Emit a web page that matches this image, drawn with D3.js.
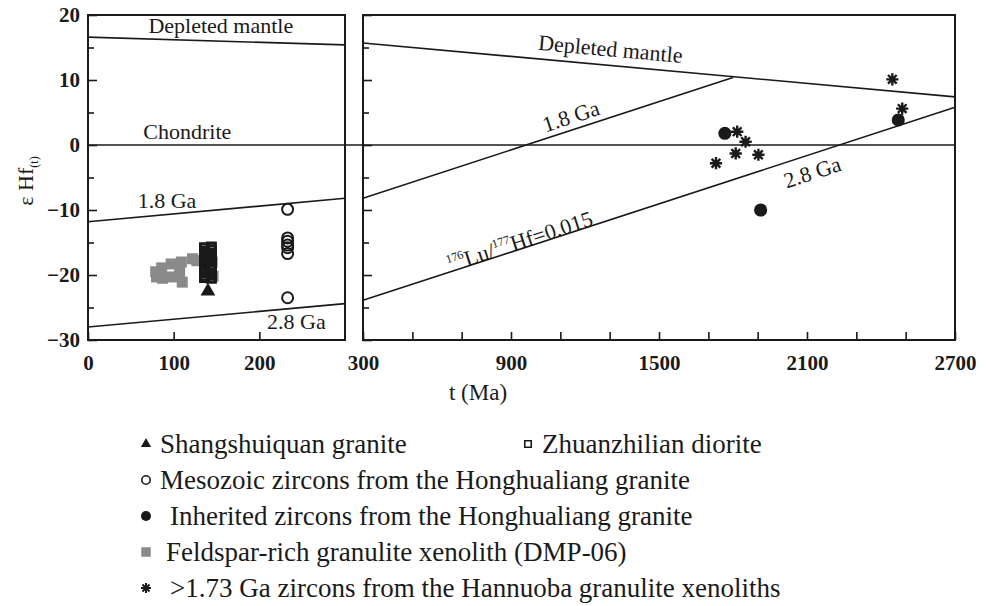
<!DOCTYPE html>
<html>
<head>
<meta charset="utf-8">
<script src="https://cdn.jsdelivr.net/npm/d3@7"></script>
<style>
  html, body { margin: 0; padding: 0; background: #fff; }
  svg { display: block; }
  text { font-family: "Liberation Serif", "Times New Roman", serif; fill: #1a1a1a; }
</style>
</head>
<body>
<svg id="chart" width="989" height="606"></svg>
<script>
// ---- data: t (Ma), εHf(t) ----
const shangshuiquan = [[140, -22.5]];
const zhuanzhilian = [
  [136, -15.8], [136, -16.3], [136, -16.7], [136, -17.2], [136, -17.5], [136, -18.0],
  [136, -18.4], [136, -18.9], [136, -19.3], [136, -19.6], [136, -20.1], [136, -20.4],
  [144, -15.7], [144, -16.1], [144, -16.6], [144, -17.0], [144, -17.6], [144, -17.9],
  [144, -18.5], [144, -18.8], [144, -19.2], [144, -19.7], [144, -20.0], [144, -20.5]
];
const mesozoic = [[233, -9.9], [233, -14.3], [233, -14.8], [233, -15.4], [233, -15.8], [233, -16.7], [233, -23.5]];
const inherited = [[1767, 1.8], [2470, 3.85], [1912, -10.0]];
const dmp06 = [
  [79, -19.5], [80, -20.3], [86, -18.9], [87, -20.5], [97, -18.3], [98, -20.3],
  [109, -18.0], [110, -21.1], [107, -19.6], [122, -17.5], [127, -17.8],
  [145, -18.0], [146, -20.2]
];
const hannuoba = [[2446, 10.1], [2486, 5.6], [1817, 2.05], [1851, 0.5], [1811, -1.3], [1903, -1.5], [1731, -2.8]];

// reference evolution lines, left (0–300 Ma) and right (300–2700 Ma) panels
const leftDM = [[0, 16.6], [300, 15.4]];
const left18 = [[0, -11.8], [300, -8.2]];
const left28 = [[0, -28.0], [300, -24.4]];
const rightDM = [[300, 15.7], [2700, 7.4]];
const right18 = [[300, -8.2], [1800, 10.4]];
const right28 = [[300, -23.9], [2700, 5.8]];

// axes
const leftDomain = [0, 300];
const rightDomain = [300, 2700];
const yDomain = [-30, 20];
const yTickLabels = [20, 10, 0, -10, -20, -30];
const yMinorTicks = [15, 5, -5, -15, -25];
const leftXTicks = [0, 100, 200];
const rightXTicks = [300, 500, 700, 900, 1100, 1300, 1500, 1700, 1900, 2100, 2300, 2500, 2700];
const rightXLabels = [300, 900, 1500, 2100, 2700];

const legendItems = [
  { key: "tri", label: "Shangshuiquan granite" },
  { key: "hsq", label: "Zhuanzhilian diorite" },
  { key: "oc", label: "Mesozoic zircons from the Honghualiang granite" },
  { key: "fc", label: "Inherited zircons from the Honghualiang granite" },
  { key: "gsq", label: "Feldspar-rich granulite xenolith (DMP-06)" },
  { key: "ast", label: ">1.73 Ga zircons from the Hannuoba granulite xenoliths" }
];

// ---- drawing ----
const ink = "#1a1a1a";
const svg = d3.select("#chart");

const xL = d3.scaleLinear().domain(leftDomain).range([88, 345]);
const xR = d3.scaleLinear().domain(rightDomain).range([363, 955]);
const y = d3.scaleLinear().domain(yDomain).range([340, 15]);

// eight-ray asterisk
const asterisk = {
  draw(ctx, size) {
    const r = Math.sqrt(size) / 2;
    const d = r * Math.SQRT1_2;
    ctx.moveTo(-r, 0); ctx.lineTo(r, 0);
    ctx.moveTo(0, -r); ctx.lineTo(0, r);
    ctx.moveTo(-d, -d); ctx.lineTo(d, d);
    ctx.moveTo(-d, d); ctx.lineTo(d, -d);
  }
};

function panelFrame(xs) {
  const [x0, x1] = xs.range();
  svg.append("rect")
    .attr("x", x0).attr("y", y(20))
    .attr("width", x1 - x0).attr("height", y(-30) - y(20))
    .attr("fill", "none").attr("stroke", ink).attr("stroke-width", 2);
}

function yTicks(xs, withLabels) {
  const gMaj = svg.append("g").attr("transform", `translate(${xs.range()[0]},0)`)
    .call(d3.axisLeft(y).tickValues(yTickLabels).tickSize(-9).tickPadding(8)
      .tickFormat(withLabels ? d3.format("d") : () => ""));
  const gMin = svg.append("g").attr("transform", `translate(${xs.range()[0]},0)`)
    .call(d3.axisLeft(y).tickValues(yMinorTicks).tickSize(-6).tickFormat(() => ""));
  [gMaj, gMin].forEach(g => {
    g.select(".domain").remove();
    g.selectAll("line").attr("stroke", ink).attr("stroke-width", 1.6);
    g.selectAll("text").attr("font-size", 21).attr("font-weight", "bold")
      .attr("font-family", "Liberation Serif").attr("fill", ink);
  });
}

function xTicks(xs, values, labels) {
  const g = svg.append("g").attr("transform", `translate(0,${y(-30)})`)
    .call(d3.axisBottom(xs).tickValues(values).tickSize(-8).tickPadding(15)
      .tickFormat(v => labels.includes(v) ? String(v) : ""));
  g.select(".domain").remove();
  g.selectAll("line").attr("stroke", ink).attr("stroke-width", 1.6);
  g.selectAll("text").attr("font-size", 21).attr("font-weight", "bold")
    .attr("font-family", "Liberation Serif").attr("fill", ink);
}

function refLine(xs, pts) {
  svg.append("path")
    .attr("d", d3.line().x(d => xs(d[0])).y(d => y(d[1]))(pts))
    .attr("fill", "none").attr("stroke", ink).attr("stroke-width", 1.6);
}

function screenAngle(xs, pts) {
  const dx = xs(pts[1][0]) - xs(pts[0][0]);
  const dy = y(pts[1][1]) - y(pts[0][1]);
  return Math.atan2(dy, dx) * 180 / Math.PI;
}

function lineLabel(xs, pts, t, text, dy, anchor, size) {
  const f = (t - pts[0][0]) / (pts[1][0] - pts[0][0]);
  const v = pts[0][1] + f * (pts[1][1] - pts[0][1]);
  const ang = screenAngle(xs, pts);
  return svg.append("text")
    .attr("transform", `translate(${xs(t)},${y(v)}) rotate(${ang})`)
    .attr("dy", dy).attr("text-anchor", anchor).attr("font-size", size || 22)
    .text(text);
}

// frames, ticks
panelFrame(xL);
panelFrame(xR);
yTicks(xL, true);
yTicks(xR, false);
xTicks(xL, leftXTicks, leftXTicks);
xTicks(xR, rightXTicks, rightXLabels);

// reference lines
refLine(xL, leftDM); refLine(xL, left18); refLine(xL, left28);
refLine(xR, rightDM); refLine(xR, right18); refLine(xR, right28);
// chondrite line runs across both panels
svg.append("line")
  .attr("x1", xL(0)).attr("x2", xR(2700)).attr("y1", y(0)).attr("y2", y(0))
  .attr("stroke", ink).attr("stroke-width", 1.6);

// left panel labels
svg.append("text").attr("x", xL(155)).attr("y", y(17.25)).attr("text-anchor", "middle")
  .attr("font-size", 22).text("Depleted mantle");
svg.append("text").attr("x", xL(116)).attr("y", y(0)).attr("dy", -6).attr("text-anchor", "middle")
  .attr("font-size", 22).text("Chondrite");
svg.append("text").attr("x", xL(58)).attr("y", y(-9.7)).attr("font-size", 22).text("1.8 Ga");
svg.append("text").attr("x", xL(209)).attr("y", y(-28.3)).attr("font-size", 22).text("2.8 Ga");

// right panel labels
lineLabel(xR, rightDM, 1005, "Depleted mantle", -9, "start");
lineLabel(xR, right18, 1160, "1.8 Ga", -6, "middle");
lineLabel(xR, right28, 2100, "2.8 Ga", 25, "middle");
const lu = lineLabel(xR, right28, 945, "", 24, "middle");
lu.append("tspan").attr("font-size", 12).attr("dy", -9).text("176");
lu.append("tspan").attr("dy", 9).text("Lu/");
lu.append("tspan").attr("font-size", 12).attr("dy", -9).text("177");
lu.append("tspan").attr("dy", 9).text("Hf=0.015");

// axis titles
svg.append("text").attr("x", 478).attr("y", 400).attr("text-anchor", "middle")
  .attr("font-size", 23).text("t (Ma)");
const yt = svg.append("text").attr("transform", `translate(33,${181}) rotate(-90)`)
  .attr("text-anchor", "middle").attr("font-size", 22);
yt.append("tspan").text("ε Hf");
yt.append("tspan").attr("font-size", 12).attr("dy", 5).text("(t)");

// ---- markers ----
const sym = (type, size) => d3.symbol().type(type).size(size)();

function plot(xs, data, path, attrs) {
  const s = svg.append("g").selectAll("path").data(data).join("path")
    .attr("transform", d => `translate(${xs(d[0])},${y(d[1])})`)
    .attr("d", path);
  Object.entries(attrs).forEach(([k, v]) => s.attr(k, v));
}

plot(xL, dmp06, sym(d3.symbolSquare, 121), { fill: "#8a8a8a" });
plot(xL, zhuanzhilian, sym(d3.symbolSquare, 64), { fill: "none", stroke: ink, "stroke-width": 3 });
plot(xL, shangshuiquan, sym(d3.symbolTriangle, 95), { fill: ink });
plot(xL, mesozoic, sym(d3.symbolCircle, 95), { fill: "none", stroke: ink, "stroke-width": 2 });
plot(xR, inherited, sym(d3.symbolCircle, 135), { fill: ink });
plot(xR, hannuoba, sym(asterisk, 150), { fill: "none", stroke: ink, "stroke-width": 2.4 });

// ---- legend ----
const legendRows = [
  { key: "tri", x: 146, y: 444, tx: 160 },
  { key: "hsq", x: 528, y: 444, tx: 542 },
  { key: "oc", x: 146, y: 480, tx: 160 },
  { key: "fc", x: 146, y: 516, tx: 170 },
  { key: "gsq", x: 146, y: 552, tx: 166 },
  { key: "ast", x: 146, y: 588, tx: 170 }
];
const legendSymbols = {
  tri: { d: sym(d3.symbolTriangle, 45), fill: ink },
  hsq: { d: sym(d3.symbolSquare, 42), fill: "none", stroke: ink, sw: 1.6 },
  oc: { d: sym(d3.symbolCircle, 55), fill: "none", stroke: ink, sw: 1.6 },
  fc: { d: sym(d3.symbolCircle, 80), fill: ink },
  gsq: { d: sym(d3.symbolSquare, 90), fill: "#8a8a8a" },
  ast: { d: sym(asterisk, 100), fill: "none", stroke: ink, sw: 2 }
};
const lg = svg.append("g");
legendRows.forEach(r => {
  const item = legendItems.find(i => i.key === r.key);
  const s = legendSymbols[r.key];
  lg.append("path").attr("transform", `translate(${r.x},${r.y})`).attr("d", s.d)
    .attr("fill", s.fill).attr("stroke", s.stroke || "none").attr("stroke-width", s.sw || 0);
  lg.append("text").attr("x", r.tx).attr("y", r.y).attr("dy", 9)
    .attr("font-size", 27).text(item.label);
});
</script>
</body>
</html>
